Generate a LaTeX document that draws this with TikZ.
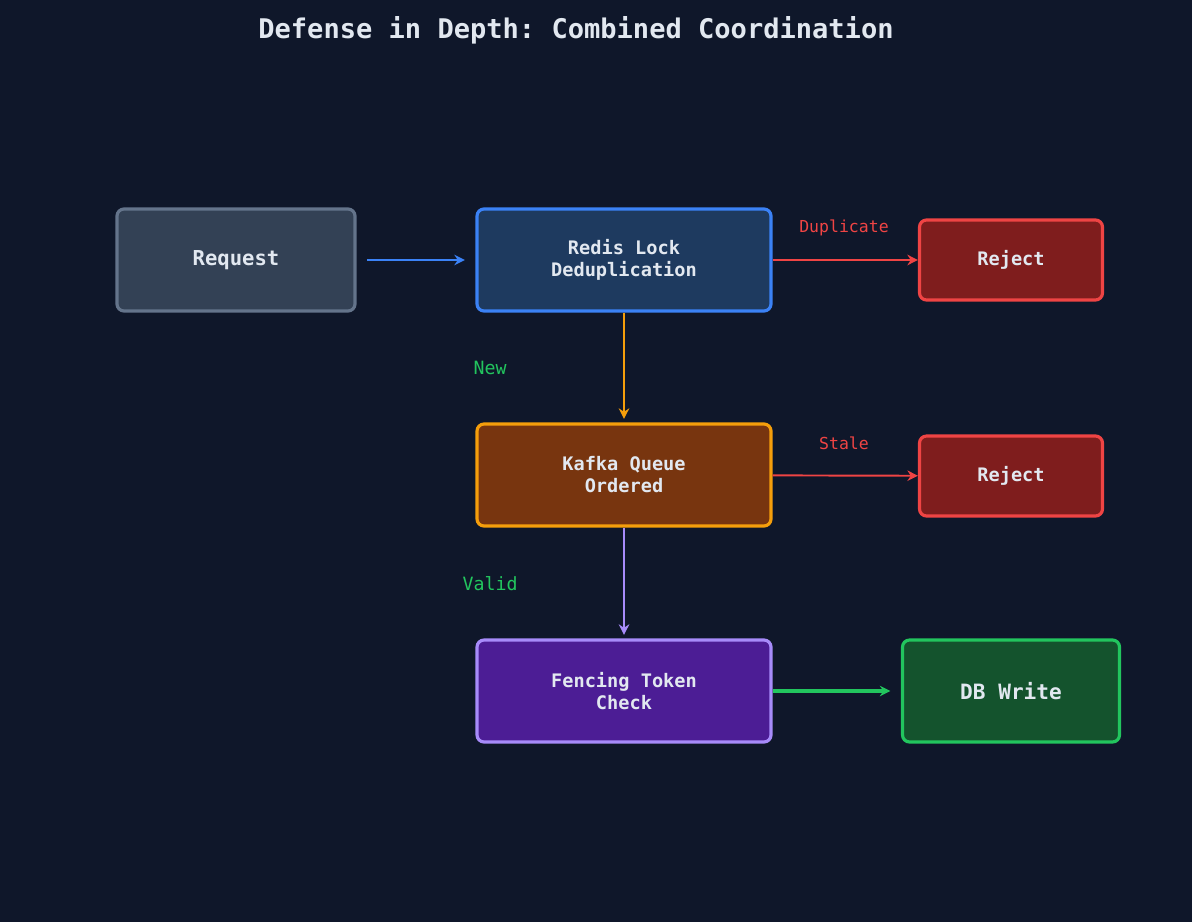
\documentclass[tikz,border=0pt]{standalone}
\usepackage{fontspec}
\setmonofont{DejaVu Sans Mono}
\usetikzlibrary{arrows.meta}
\definecolor{bgc}{HTML}{0F172A}
\definecolor{txt}{HTML}{E2E8F0}
\definecolor{reqf}{HTML}{334155}\definecolor{reqd}{HTML}{64748B}
\definecolor{redf}{HTML}{1E3A5F}\definecolor{redd}{HTML}{3B82F6}
\definecolor{rejf}{HTML}{7F1D1D}\definecolor{rejd}{HTML}{EF4444}
\definecolor{kaff}{HTML}{78350F}\definecolor{kafd}{HTML}{F59E0B}
\definecolor{fenf}{HTML}{4C1D95}\definecolor{fend}{HTML}{A78BFA}
\definecolor{dbf}{HTML}{14532D}\definecolor{dbd}{HTML}{22C55E}
\tikzset{
  box/.style={draw, line width=1.8pt, rounded corners=4pt, text=txt, align=center,
    font=\ttfamily\bfseries\fontsize{10.6}{12.5}\selectfont, inner sep=0pt},
  lbl/.style={font=\ttfamily\fontsize{9.4}{11}\selectfont},
  arr/.style={-{Stealth[length=6pt,width=6pt]}, line width=1.4pt}
}
\begin{document}
\begin{tikzpicture}[x=0.02cm,y=-0.02cm]
  \fill[bgc] (0,0) rectangle (1192,922);
  \useasboundingbox (0,0) rectangle (1192,922);
  \node[text=txt, font=\ttfamily\bfseries\fontsize{15.4}{18}\selectfont] (title) at (576,30) {Defense in Depth: Combined Coordination};
  % boxes
  \node[box, fill=reqf, draw=reqd, minimum width=238*0.02cm, minimum height=102*0.02cm, font=\ttfamily\bfseries\fontsize{11.7}{14}\selectfont] (req) at (236,260) {Request};
  \node[box, fill=redf, draw=redd, minimum width=294*0.02cm, minimum height=102*0.02cm] (redis) at (624,260) {Redis Lock\\Deduplication};
  \node[box, fill=rejf, draw=rejd, minimum width=183*0.02cm, minimum height=80*0.02cm] (rej1) at (1011,260) {Reject};
  \node[box, fill=kaff, draw=kafd, minimum width=294*0.02cm, minimum height=102*0.02cm] (kafka) at (624,475) {Kafka Queue\\Ordered};
  \node[box, fill=rejf, draw=rejd, minimum width=183*0.02cm, minimum height=80*0.02cm] (rej2) at (1011,476) {Reject};
  \node[box, fill=fenf, draw=fend, minimum width=294*0.02cm, minimum height=102*0.02cm] (fence) at (624,691) {Fencing Token\\Check};
  \node[box, fill=dbf, draw=dbd, minimum width=217*0.02cm, minimum height=102*0.02cm, font=\ttfamily\bfseries\fontsize{12}{14}\selectfont] (db) at (1011,691) {DB Write};
  % connectors
  \draw[arr, redd, shorten <=6pt, shorten >=6pt] (req) -- (redis);
  \draw[arr, rejd, line width=1.1pt] (redis) -- (rej1);
  \draw[arr, kafd, shorten >=2pt] (redis) -- (kafka);
  \draw[arr, rejd, line width=1.1pt] (kafka) -- (rej2);
  \draw[arr, fend, shorten >=2pt] (kafka) -- (fence);
  \draw[arr, dbd, line width=2.2pt, shorten >=6pt] (fence) -- (db);
  % labels
  \node[lbl, text=rejd] (dup) at (844,228) {Duplicate};
  \node[lbl, text=rejd] (stale) at (844,443) {Stale};
  \node[lbl, text=dbd, font=\ttfamily\fontsize{10.4}{12}\selectfont] (new) at (490,368) {New};
  \node[lbl, text=dbd, font=\ttfamily\fontsize{10.4}{12}\selectfont] (valid) at (490,584) {Valid};
\end{tikzpicture}
\end{document}
